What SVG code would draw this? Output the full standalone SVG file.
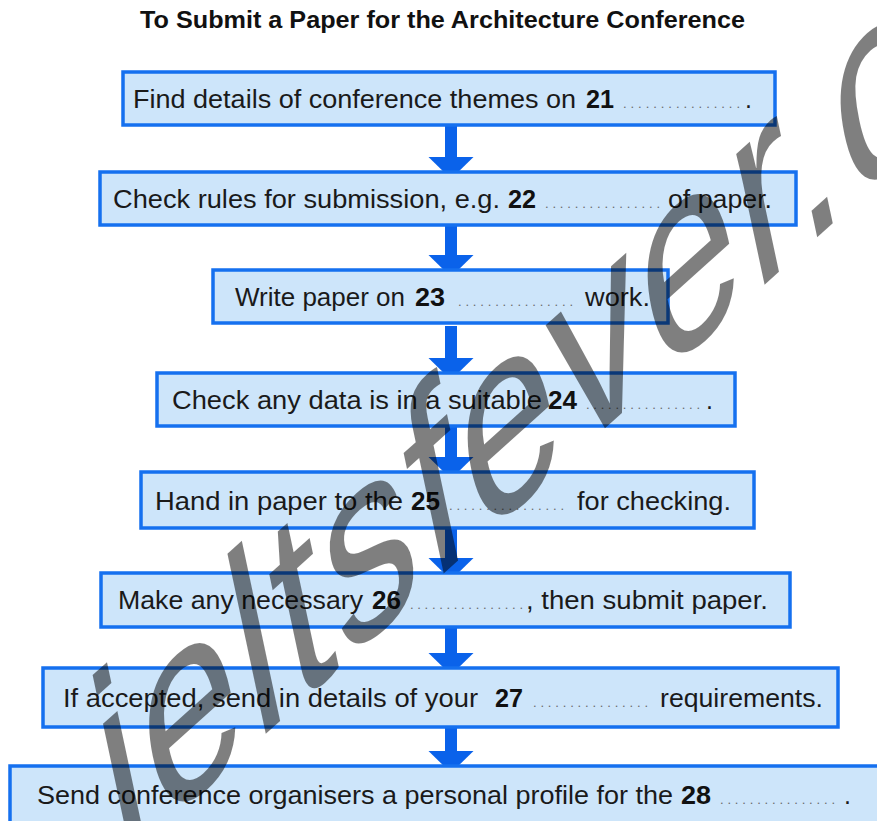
<svg xmlns="http://www.w3.org/2000/svg" width="877" height="821" viewBox="0 0 877 821">
<style>
  .box{fill:#cde5fa;stroke:#1570ef;stroke-width:3.5}
  .t{font-family:"Liberation Sans",Arial,sans-serif;font-size:25px;fill:#1a1a1a}
  .b{font-family:"Liberation Sans",Arial,sans-serif;font-size:25px;font-weight:bold;fill:#111}
  .d{font-family:"Liberation Sans",Arial,sans-serif;font-size:13px;fill:#6a6a6a}
  .title{font-family:"Liberation Sans",Arial,sans-serif;font-size:24px;font-weight:bold;fill:#111}
  .arrow{fill:#0a62ea}
  .wm{font-family:"Liberation Sans",Arial,sans-serif;font-size:220px;letter-spacing:5px;fill:#000;fill-opacity:0.5}
</style>
<defs>
  <g id="arr"><rect x="-6" y="-47" width="12" height="33" class="arrow"/><polygon points="-22.5,-15 22.5,-15 0,7" class="arrow"/></g>
</defs>
<rect width="877" height="821" fill="#ffffff"/>
<text class="title" x="140" y="28" textLength="605" lengthAdjust="spacingAndGlyphs">To Submit a Paper for the Architecture Conference</text>

<g id="connectors">
  <use href="#arr" x="451" y="172"/>
  <use href="#arr" x="451" y="270"/>
  <use href="#arr" x="451" y="373"/>
  <use href="#arr" x="451" y="472"/>
  <use href="#arr" x="451" y="573"/>
  <use href="#arr" x="451" y="668"/>
  <use href="#arr" x="451" y="766"/>
</g>

<g id="n1">
  <rect class="box" x="123" y="72" width="652" height="53"/>
  <text class="t" x="133" y="108" textLength="443" lengthAdjust="spacingAndGlyphs">Find details of conference themes on</text>
  <text class="b" x="586" y="108" textLength="28" lengthAdjust="spacingAndGlyphs">21</text>
  <text class="d" x="623" y="108" textLength="117" lengthAdjust="spacing">................</text>
  <text class="t" x="745" y="108">.</text>
</g>
<g id="n2">
  <rect class="box" x="100" y="172" width="696" height="53"/>
  <text class="t" x="113" y="208" textLength="387" lengthAdjust="spacingAndGlyphs">Check rules for submission, e.g.</text>
  <text class="b" x="508" y="208" textLength="28" lengthAdjust="spacingAndGlyphs">22</text>
  <text class="d" x="545" y="208" textLength="115" lengthAdjust="spacing">................</text>
  <text class="t" x="668" y="208" textLength="104" lengthAdjust="spacingAndGlyphs">of paper.</text>
</g>
<g id="n3">
  <rect class="box" x="213" y="270" width="455" height="53"/>
  <text class="t" x="235" y="306" textLength="170" lengthAdjust="spacingAndGlyphs">Write paper on</text>
  <text class="b" x="415" y="306" textLength="30" lengthAdjust="spacingAndGlyphs">23</text>
  <text class="d" x="458" y="306" textLength="115" lengthAdjust="spacing">................</text>
  <text class="t" x="585" y="306" textLength="65" lengthAdjust="spacingAndGlyphs">work.</text>
</g>
<g id="n4">
  <rect class="box" x="157" y="373" width="578" height="53"/>
  <text class="t" x="172" y="409" textLength="370" lengthAdjust="spacingAndGlyphs">Check any data is in a suitable</text>
  <text class="b" x="548" y="409" textLength="29" lengthAdjust="spacingAndGlyphs">24</text>
  <text class="d" x="586" y="409" textLength="114" lengthAdjust="spacing">................</text>
  <text class="t" x="706" y="409">.</text>
</g>
<g id="n5">
  <rect class="box" x="141" y="472" width="613" height="56"/>
  <text class="t" x="155" y="510" textLength="248" lengthAdjust="spacingAndGlyphs">Hand in paper to the</text>
  <text class="b" x="411" y="510" textLength="29" lengthAdjust="spacingAndGlyphs">25</text>
  <text class="d" x="449" y="510" textLength="115" lengthAdjust="spacing">................</text>
  <text class="t" x="577" y="510" textLength="154" lengthAdjust="spacingAndGlyphs">for checking.</text>
</g>
<g id="n6">
  <rect class="box" x="101" y="573" width="689" height="54"/>
  <text class="t" x="118" y="609" textLength="245" lengthAdjust="spacingAndGlyphs">Make any necessary</text>
  <text class="b" x="372" y="609" textLength="29" lengthAdjust="spacingAndGlyphs">26</text>
  <text class="d" x="410" y="609" textLength="113" lengthAdjust="spacing">................</text>
  <text class="t" x="526" y="609" textLength="242" lengthAdjust="spacingAndGlyphs">, then submit paper.</text>
</g>
<g id="n7">
  <rect class="box" x="43" y="668" width="795" height="59"/>
  <text class="t" x="63" y="707" textLength="415" lengthAdjust="spacingAndGlyphs">If accepted, send in details of your</text>
  <text class="b" x="495" y="707" textLength="28" lengthAdjust="spacingAndGlyphs">27</text>
  <text class="d" x="533" y="707" textLength="115" lengthAdjust="spacing">................</text>
  <text class="t" x="660" y="707" textLength="163" lengthAdjust="spacingAndGlyphs">requirements.</text>
</g>
<g id="n8">
  <rect class="box" x="10" y="766" width="880" height="62"/>
  <text class="t" x="37" y="804" textLength="636" lengthAdjust="spacingAndGlyphs">Send conference organisers a personal profile for the</text>
  <text class="b" x="681" y="804" textLength="30" lengthAdjust="spacingAndGlyphs">28</text>
  <text class="d" x="720" y="804" textLength="115" lengthAdjust="spacing">................</text>
  <text class="t" x="844" y="804">.</text>
</g>

<text class="wm" transform="translate(120 865) rotate(-42) skewX(-30)">ieltsfever.c</text>
</svg>
